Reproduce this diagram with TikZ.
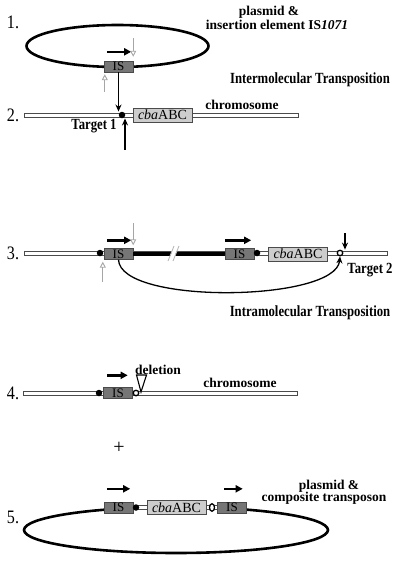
\documentclass[tikz,border=0pt]{standalone}
\usepackage{fontspec}
\setmainfont{Liberation Serif}
\usetikzlibrary{arrows.meta,shapes.geometric}
\tikzset{>=stealth}
\definecolor{isgray}{RGB}{118,118,118}
\definecolor{genegray}{RGB}{205,205,205}
\definecolor{linegray}{RGB}{75,75,75}
\tikzset{
  isbox/.style={draw=linegray, fill=isgray, minimum width=29pt, minimum height=11pt, inner sep=0pt, font=\fontsize{13}{13}\selectfont},
  genebox/.style={draw=linegray, fill=genegray, minimum width=59pt, minimum height=14pt, inner sep=0pt, font=\fontsize{14}{14}\selectfont},
  dna/.style={draw=linegray, line width=5pt, line cap=rect, postaction={draw=white, line width=3pt}},
  plasmid/.style={draw=black, line width=2.6pt},
  tgt/.style={circle, fill=black, minimum size=6.5pt, inner sep=0pt},
  site/.style={circle, draw=black, fill=white, line width=1.3pt, minimum size=5.5pt, inner sep=0pt},
  dirarrow/.style={-{Triangle[length=7pt, width=7pt]}, line width=2.4pt},
  hitarrow/.style={-{Stealth[length=7pt, width=6pt]}, line width=1.3pt},
  cutarrow/.style={-{Triangle[open, length=6pt, width=6pt]}, draw=gray!70, line width=0.9pt},
  brk/.style={draw=gray!55, line width=0.9pt},
  lbl/.style={font=\bfseries\fontsize{13.5}{13.5}\selectfont, inner sep=0pt},
  title/.style={font=\bfseries\fontsize{15.5}{15.5}\selectfont, xscale=0.82, inner sep=0pt},
  num/.style={font=\fontsize{19}{19}\selectfont, xscale=0.85, inner sep=0pt}
}

\begin{document}
\begin{tikzpicture}[x=1pt,y=-1pt]
\useasboundingbox (0,0) rectangle (400,562);

\node[num] (n1) at (13,22) {1.};
\draw[plasmid] (117.5,46) ellipse (91 and 21);
\node[isbox] (is1) at (118.5,66.5) {IS};
\draw[dirarrow] ([shift={(3pt,9pt)}]is1.north west) -- ([shift={(-2pt,9pt)}]is1.north east);
\draw[cutarrow] ([yshift=23pt]is1.north east) -- ([yshift=4pt]is1.north east);
\draw[cutarrow] ([shift={(1pt,-20pt)}]is1.south west) -- ([shift={(1pt,-2pt)}]is1.south west);
\node[lbl] (pl1) at (269,12) {plasmid \&};
\node[lbl] (ins1) at (277,25) {insertion element IS\textit{1071}};
\node[title] (inter) at (310,80) {Intermolecular Transposition};

\node[num] (n2) at (13,115) {2.};
\coordinate (c2l) at (26,115);
\coordinate (c2r) at (296,115);
\draw[dna] (c2l) -- (c2r);
\node[tgt] (t1) at (122,115) {};
\node[genebox] (cba2) at (162.5,115) {\textit{cba}ABC};
\node[lbl] (chr2) at (242,105) {chromosome};
\node[title] (tg1) at (94,126) {Target 1};
\draw[hitarrow] (is1.south) -- (is1.south |- t1.north);
\coordinate (b2) at (125,150);
\draw[hitarrow] (b2) -- (b2 |- t1.south);

\node[num] (n3) at (13,253) {3.};
\coordinate (c3l) at (26,253);
\coordinate (c3r) at (385,253);
\draw[dna] (c3l) -- (c3r);
\node[tgt] (t3a) at (100,253) {};
\node[isbox] (is3a) at (118.5,254) {IS};
\node[isbox] (is3b) at (239.5,254) {IS};
\node[tgt] (t3b) at (257,253) {};
\node[genebox] (cba3) at (298,254) {\textit{cba}ABC};
\node[site] (s3) at (340,253) {};
\draw[line width=3.2pt] (is3a.east) -- (is3b.west);
\draw[white, line width=4pt] (170.5,261) -- (176.5,246);
\draw[brk] (168,261) -- (174,246);
\draw[brk] (173,261) -- (179,246);
\draw[dirarrow] ([shift={(3pt,8pt)}]is3a.north west) -- ([shift={(-2pt,8pt)}]is3a.north east);
\draw[dirarrow] ([shift={(0pt,8pt)}]is3b.north west) -- ([shift={(-3pt,8pt)}]is3b.north east);
\draw[cutarrow] ([yshift=25pt]is3a.north east) -- ([yshift=3pt]is3a.north east);
\draw[cutarrow] ([shift={(-1pt,-22pt)}]is3a.south west) -- ([shift={(-1pt,-2pt)}]is3a.south west);
\coordinate (d3) at (345,233);
\draw[hitarrow] (d3) -- (d3 |- s3.north);
\draw[hitarrow] (is3a.south) .. controls (120,305) and (336,302) .. (s3.south);
\node[title] (tg2) at (370,270) {Target 2};
\node[title] (intra) at (310,313) {Intramolecular Transposition};

\node[num] (n4) at (13,393) {4.};
\coordinate (c4l) at (25,393);
\coordinate (c4r) at (295,393);
\draw[dna] (c4l) -- (c4r);
\node[tgt] (t4) at (99,393) {};
\node[isbox] (is4) at (118,393) {IS};
\node[site] (s4) at (136,393) {};
\draw[draw=black, fill=white, line width=1.1pt] (136.5,375) -- (146.5,375) -- (141,392) -- cycle;
\draw[dirarrow] ([shift={(4pt,12pt)}]is4.north west) -- ([shift={(-5pt,12pt)}]is4.north east);
\node[lbl] (del4) at (158,370) {deletion};
\node[lbl] (chr4) at (240,383) {chromosome};

\node[font=\fontsize{20}{20}\selectfont] (plus) at (119,448) {+};

\node[num] (n5) at (13,517) {5.};
\draw[plasmid] (176,530) ellipse (152 and 23);
\coordinate (c5l) at (133,507.5);
\coordinate (c5r) at (215,507.5);
\draw[white, line width=6pt] (c5l) -- (c5r);
\draw[dna] (c5l) -- (c5r);
\node[isbox] (is5a) at (118.5,507.5) {IS};
\node[tgt] (t5) at (136,507.5) {};
\node[genebox] (cba5) at (176.5,507.5) {\textit{cba}ABC};
\node[site, ellipse, minimum width=5pt, minimum height=7.5pt] (s5) at (212,507.5) {};
\node[isbox] (is5b) at (232,507.5) {IS};
\draw[dirarrow] ([shift={(3pt,13pt)}]is5a.north west) -- ([shift={(-3pt,13pt)}]is5a.north east);
\draw[dirarrow] ([shift={(7pt,13pt)}]is5b.north west) -- ([shift={(-4pt,13pt)}]is5b.north east);
\node[lbl] (pl5) at (329,486) {plasmid \&};
\node[lbl] (comp5) at (324,498) {composite transposon};
\end{tikzpicture}
\end{document}
